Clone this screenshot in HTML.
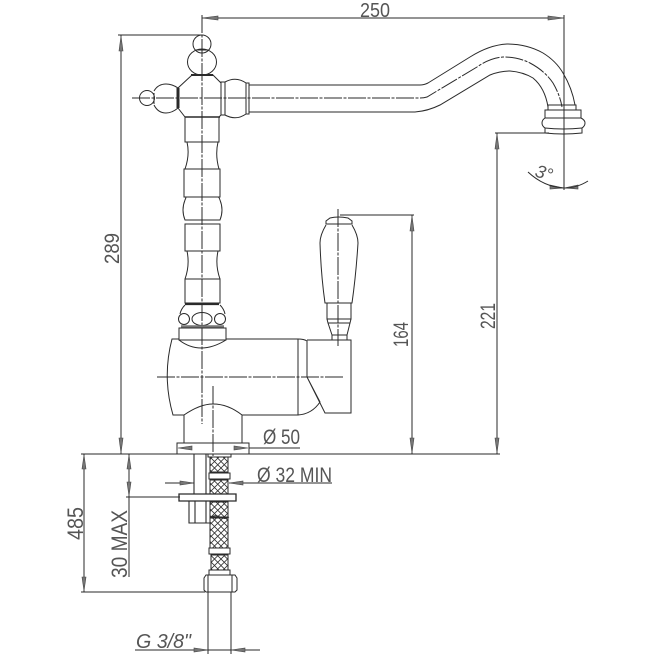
<!DOCTYPE html>
<html>
<head>
<meta charset="utf-8">
<style>
html,body{margin:0;padding:0;background:#fff;width:654px;height:654px;overflow:hidden}
svg{display:block}
text{font-family:"Liberation Sans",sans-serif;fill:#555}
</style>
</head>
<body>
<svg width="654" height="654" viewBox="0 0 654 654" xmlns="http://www.w3.org/2000/svg">
<defs>
<pattern id="mesh" width="6.5" height="6.5" patternUnits="userSpaceOnUse">
<path d="M0 0L6.5 6.5M6.5 0L0 6.5" stroke="#333" stroke-width=".8"/>
</pattern>
</defs>
<g fill="none" stroke="#2a2a2a" stroke-width="1">
<!-- dimension lines -->
<path d="M202 18H564M564 15V190M118 35H202M121 35V454M81 454H500M497 133V454M495 133H549M340 215H414M412 215V454"/>
<path d="M84 454V592M81 592H205M129 454V577M126 497H180M135 650H260M208 592V654M231 592V654M165 483H194M229 483H332M249 448H300"/>
<!-- arrowheads -->
<g fill="#777" stroke="#444" stroke-width=".6">
<path d="M202 18L218 16V20Z"/><path d="M564 18L548 16V20Z"/>
<path d="M121 36L119 51H123Z"/><path d="M121 453L119 438H123Z"/>
<path d="M497 134L495 149H499Z"/><path d="M497 453L495 438H499Z"/>
<path d="M412 216L410 231H414Z"/><path d="M412 453L410 438H414Z"/>
<path d="M84 455L82 469H86Z"/><path d="M84 591L82 577H86Z"/>
<path d="M129 455L127 469H131Z"/><path d="M129 496L127 482H131Z"/>
<path d="M194 483L180 481V485Z"/><path d="M229 483L243 481V485Z"/>
<path d="M208 650L194 648V652Z"/><path d="M231 650L245 648V652Z"/>
<path d="M178 448L192 446V450Z"/><path d="M248 448L234 446V450Z"/>
<path d="M564 188L550 185V189Z"/><path d="M564 188L578 185V189Z"/>
</g>
<path d="M528 172Q544 187 564 188Q577 188 588 181"/>
<!-- center lines -->
<g stroke-width="1" stroke-dasharray="18 1.5 3 1.5">
<path d="M132 98H420Q424 98 427 97L477 67Q490 58 503 57Q518 57 530 63Q545 71 553 83Q560 95 562 107"/>
<path d="M202 15V424M213 386V456M338 209V346M157 377H344"/>
</g>
<!-- top knob -->
<circle cx="202" cy="44" r="9"/>
<ellipse cx="202" cy="62" rx="14.5" ry="13"/>
<path d="M196 50H208"/>
<path d="M191 75H213" stroke-width="2"/>
<!-- cross body -->
<path d="M192 75H213L221 83V115L219 117H185L178 108V88Z"/>
<path d="M178 88V108" stroke-width="3"/>
<path d="M185 117H220" stroke-width="1.6"/>
<circle cx="147" cy="98" r="7.5"/>
<path d="M178 88Q172 84 166 84Q158 84 154 91M154 105Q158 113 166 113Q172 113 178 108"/>
<path d="M154 93V104"/>
<path d="M221 82H225V115H221ZM225 82Q236 76 246 83M225 115Q236 121 246 114"/>
<path d="M246 83H249V114H246Z"/>
<!-- spout -->
<path d="M249 85H420Q424 85 428 83L470 57Q489 45 507 44Q527 44 543 53Q556 61 563 73Q572 88 575 105"/>
<path d="M249 112H415Q428 111 440 105L490 75Q500 71 510 71Q523 72 533 78Q545 88 548 107"/>
<!-- spout head -->
<path d="M548 105H576V110H581V118Q585 120 585 123Q585 126 582 128V133Q563 135 545 133V128Q542 126 542 123Q542 120 545 118V110H548Z"/>
<path d="M548 110H576M545 118H581M545 128Q563 130 582 128" />
<!-- stem -->
<path d="M185 117H219V142H185ZM187 142Q190 155 185 169M218 142Q215 155 219 169M184 169H220V197H184Z"/>
<path d="M185 200Q181 210 185 220H220Q224 210 220 200Q219 197 218 197H186Q186 198 185 200Z"/>
<path d="M185 224H220V251H185ZM187 251Q190 265 185 279M218 251Q215 265 220 279M185 279H220V303H185Z"/>
<path d="M185 304H219" stroke-width="2.2"/>
<!-- ball collar -->
<circle cx="184" cy="319" r="5.5"/><circle cx="220" cy="319" r="5.5"/>
<ellipse cx="202" cy="319" rx="10" ry="6.5"/>
<path d="M185 305Q181 309 180 314M220 305Q224 309 225 314"/>
<path d="M181 326.500H224" stroke="#777" stroke-width="2.5"/>
<path d="M179 328H226V340H179ZM179 340Q200 356 226 340"/>
<!-- body -->
<path d="M179 339H172Q162 377 173 415H184V443M226 339H298V415H242V443M184 415Q200 404 213 404Q228 404 242 415"/>
<path d="M298 339Q304 339 307 341V377L320 402Q312 414 298 415M307 340H351V413H325L307 377"/>
<!-- handle -->
<path d="M326 224V221L330 218Q338 216 348 218L352 221V224Z"/>
<path d="M326 225Q320 235 320 243Q321 275 325 303H352Q356 275 358 243Q358 235 352 225"/>
<path d="M327 303H351V319H327ZM327 319L328 323H350L351 319M328 323L332 335V340M350 323L347 335V340M332 335H347"/>
<!-- base plate -->
<path d="M177 443H249V454H177Z"/>
<!-- under counter -->
<path d="M194 454V494M206 454V494M189 501V523H210M195 501V523M206 501V523" stroke-width="1.1"/>
<path d="M179 494H236V501H179Z" stroke-width="1.3"/>
<!-- hose -->
<rect x="210" y="457" width="18" height="15" fill="url(#mesh)"/>
<path d="M210 457V472M228 457V472M208 454H231V457H208Z"/>
<rect x="209" y="473" width="21" height="6"/>
<rect x="210" y="480" width="18" height="14" fill="url(#mesh)"/>
<path d="M210 480V494M228 480V494"/>
<rect x="210" y="502" width="18" height="15" fill="url(#mesh)"/>
<path d="M210 502V517M228 502V517M210 518Q215 514 220 517Q225 520 229 517"/>
<rect x="210" y="518" width="18" height="30" fill="url(#mesh)"/>
<path d="M210 518V548M228 518V548"/>
<rect x="209" y="548" width="21" height="6"/>
<rect x="211" y="555" width="17" height="15" fill="url(#mesh)"/>
<path d="M211 555V570M228 555V570"/>
<rect x="209" y="570" width="21" height="5"/>
<!-- nut -->
<path d="M206 575H235L237 578V590L235 592H206L204 590V578Z"/>
<path d="M208 575V592M232 575V592"/>
</g>
<!-- labels -->
<text x="360" y="17" font-size="20" textLength="30" lengthAdjust="spacingAndGlyphs">250</text>
<text transform="translate(119,264) rotate(-90)" font-size="21" textLength="31" lengthAdjust="spacingAndGlyphs">289</text>
<text transform="translate(408,347) rotate(-90)" font-size="21" textLength="25" lengthAdjust="spacingAndGlyphs">164</text>
<text transform="translate(495,329) rotate(-90)" font-size="21" textLength="26" lengthAdjust="spacingAndGlyphs">221</text>
<text transform="translate(534,176) rotate(18)" font-size="18" font-style="italic">3°</text>
<text x="263" y="444" font-size="21" textLength="37" lengthAdjust="spacingAndGlyphs">Ø 50</text>
<text x="257" y="482" font-size="21" textLength="75" lengthAdjust="spacingAndGlyphs">Ø 32  MIN</text>
<text transform="translate(83,540) rotate(-90)" font-size="22" textLength="33" lengthAdjust="spacingAndGlyphs">485</text>
<text transform="translate(127,578) rotate(-90)" font-size="22" textLength="68" lengthAdjust="spacingAndGlyphs">30 MAX</text>
<text x="136" y="648" font-size="20" font-style="italic" textLength="55" lengthAdjust="spacingAndGlyphs">G  3/8"</text>
</svg>
</body>
</html>
